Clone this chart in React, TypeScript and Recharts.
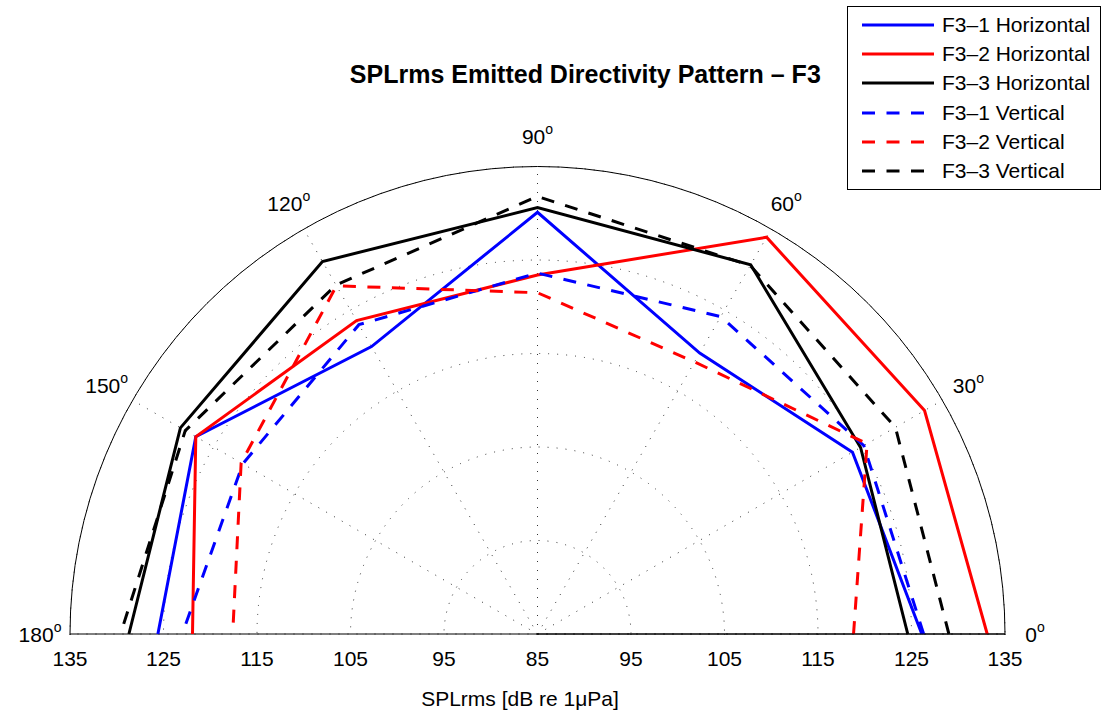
import React from 'react';
import {
  RadarChart,
  Radar,
  PolarGrid,
  PolarAngleAxis,
  PolarRadiusAxis,
  Legend,
} from 'recharts';

// Measurement angles (degrees)
const ANGLES = [0, 30, 60, 90, 120, 150, 180];
const ANGLE_DOMAIN = [0, 360];
const ANGLE_TICK_COUNT = 13;
const BASELINE_ANGLES = [0, 180];

// SPLrms [dB re 1 µPa] at each of ANGLES
const F3_1_HORIZONTAL = [126.1, 123.9, 119.7, 130.1, 120.5, 127.2, 125.6];
const F3_2_HORIZONTAL = [133.1, 132.8, 134.0, 123.4, 123.7, 127.2, 121.9];
const F3_3_HORIZONTAL = [124.6, 124.9, 130.6, 130.6, 131.0, 129.1, 128.7];
const F3_1_VERTICAL = [126.3, 125.3, 124.2, 123.6, 123.2, 121.4, 123.0];
const F3_2_VERTICAL = [118.8, 125.7, 118.6, 121.5, 128.0, 121.6, 117.6];
const F3_3_VERTICAL = [129.0, 129.2, 130.5, 131.8, 128.1, 128.5, 129.6];

const RADIUS_DOMAIN = [85, 135];
const RADIUS_TICK_COUNT = 6;

const TITLE = 'SPLrms Emitted Directivity Pattern \u2013 F3';
const X_LABEL = 'SPLrms [dB re 1\u03BCPa]';

const SERIES = [
  { key: 'f31h', name: 'F3\u20131 Horizontal', values: F3_1_HORIZONTAL, color: '#0000ff', dashed: false },
  { key: 'f32h', name: 'F3\u20132 Horizontal', values: F3_2_HORIZONTAL, color: '#ff0000', dashed: false },
  { key: 'f33h', name: 'F3\u20133 Horizontal', values: F3_3_HORIZONTAL, color: '#000000', dashed: false },
  { key: 'f31v', name: 'F3\u20131 Vertical', values: F3_1_VERTICAL, color: '#0000ff', dashed: true },
  { key: 'f32v', name: 'F3\u20132 Vertical', values: F3_2_VERTICAL, color: '#ff0000', dashed: true },
  { key: 'f33v', name: 'F3\u20133 Vertical', values: F3_3_VERTICAL, color: '#000000', dashed: true },
];

const rows = ANGLES.map((angle, i) => {
  const row: Record<string, number> = { angle };
  SERIES.forEach((s) => {
    row[s.key] = s.values[i];
  });
  return row;
});

// Figure layout
const W = 1105;
const H = 715;
const CX = 537.5;
const CY = 634;
const R = 467.5;
const FONT = '"Liberation Sans", Arial, Helvetica, sans-serif';
const DASH = '13 11.5';
const LINE_W = 3;

const LEGEND_LEFT = 847;
const LEGEND_TOP = 6;
const LEGEND_W = 254;
const LEGEND_ROW = 29.3;

// Polyline through the measured points only (the outline is left open)
const openOutline = (color: string, dashed: boolean) => (props: any) => {
  const pts = (props.points || []).filter(
    (p: any) => p.value != null && Number.isFinite(p.x) && Number.isFinite(p.y)
  );
  const d = pts.map((p: any, i: number) => `${i ? 'L' : 'M'}${p.x},${p.y}`).join(' ');
  return (
    <path
      d={d}
      fill="none"
      stroke={color}
      strokeWidth={LINE_W}
      strokeDasharray={dashed ? DASH : undefined}
      strokeLinejoin="miter"
    />
  );
};

const AngleTick = (props: any) => {
  const { x, y, payload } = props;
  const v = Number(payload && payload.value);
  if (!ANGLES.includes(v)) return <g />;
  return (
    <text x={x} y={y + 7.5} textAnchor="middle" fontSize={21} fill="#000" fontFamily={FONT}>
      {v}
      <tspan dy={-10} fontSize={14}>
        o
      </tspan>
    </text>
  );
};

// Radius ticks: the axis runs along 0 degrees; the 180-degree side repeats it mirrored
const RadiusTick = (props: any) => {
  const { x, y, payload } = props;
  const v = payload && payload.value;
  const cx = Number.isFinite(props.cx) ? props.cx : CX;
  const mirroredX = 2 * cx - x;
  return (
    <g>
      <text x={x} y={y + 32} textAnchor="middle" fontSize={21} fill="#000" fontFamily={FONT}>
        {v}
      </text>
      {v !== RADIUS_DOMAIN[0] && (
        <text x={mirroredX} y={y + 32} textAnchor="middle" fontSize={21} fill="#000" fontFamily={FONT}>
          {v}
        </text>
      )}
    </g>
  );
};

const LegendBox = (props: any) => {
  const payload = props.payload || [];
  return (
    <div
      style={{
        width: LEGEND_W,
        boxSizing: 'border-box',
        border: '1px solid #000',
        background: '#fff',
        padding: '3px 0 3px 0',
        fontFamily: FONT,
        fontSize: 21,
        color: '#000',
      }}
    >
      {SERIES.map((s) => {
        const entry = payload.find((e: any) => e.dataKey === s.key);
        return (
          <div
            key={s.key}
            style={{ height: LEGEND_ROW, display: 'flex', alignItems: 'center', whiteSpace: 'nowrap' }}
          >
            <svg width={72} height={6} style={{ marginLeft: 14, flex: 'none' }}>
              <line
                x1={0}
                y1={3}
                x2={72}
                y2={3}
                stroke={s.color}
                strokeWidth={LINE_W}
                strokeDasharray={s.dashed ? DASH : undefined}
              />
            </svg>
            <span style={{ marginLeft: 8 }}>{entry ? entry.value : s.name}</span>
          </div>
        );
      })}
    </div>
  );
};

export default function App() {
  return (
    <div
      style={{
        position: 'absolute',
        left: 0,
        top: 0,
        width: W,
        height: H,
        background: '#fff',
        fontFamily: FONT,
      }}
    >
      <style>{`.recharts-polar-grid, .recharts-polar-angle-axis-line { clip-path: url(#upper-half); }`}</style>
      <svg width={0} height={0} style={{ position: 'absolute' }}>
        <defs>
          <clipPath id="upper-half" clipPathUnits="userSpaceOnUse">
            <rect x={0} y={0} width={W} height={CY + 1} />
          </clipPath>
        </defs>
      </svg>

      <RadarChart
        width={W}
        height={H}
        data={rows}
        cx={CX}
        cy={CY}
        outerRadius={R}
        startAngle={0}
        endAngle={360}
        margin={{ top: 0, right: 0, bottom: 0, left: 0 }}
      >
        <PolarGrid gridType="circle" stroke="#333" strokeWidth={1} strokeDasharray="1 8" />
        {/* solid horizontal diameter */}
        <PolarGrid
          gridType="circle"
          polarRadius={[0]}
          polarAngles={BASELINE_ANGLES}
          stroke="#000"
          strokeWidth={1}
        />
        <PolarRadiusAxis
          angle={0}
          domain={RADIUS_DOMAIN}
          type="number"
          tickCount={RADIUS_TICK_COUNT}
          stroke="#000"
          axisLine={{ stroke: '#000', strokeWidth: 1 }}
          tickLine={false}
          tick={RadiusTick}
        />
        {SERIES.map((s) => (
          <Radar
            key={s.key}
            dataKey={s.key}
            name={s.name}
            stroke={s.color}
            fill="none"
            fillOpacity={0}
            legendType="line"
            isAnimationActive={false}
            shape={openOutline(s.color, s.dashed)}
          />
        ))}
        <PolarAngleAxis
          dataKey="angle"
          type="number"
          domain={ANGLE_DOMAIN}
          tickCount={ANGLE_TICK_COUNT}
          axisLineType="circle"
          axisLine={{ stroke: '#000', strokeWidth: 1 }}
          tickLine={false}
          tickSize={30}
          tick={AngleTick}
        />
        <Legend
          layout="vertical"
          align="right"
          verticalAlign="top"
          wrapperStyle={{ top: LEGEND_TOP, left: LEGEND_LEFT, right: 'auto', width: LEGEND_W }}
          content={LegendBox}
        />
      </RadarChart>

      <svg
        width={W}
        height={H}
        style={{ position: 'absolute', left: 0, top: 0, pointerEvents: 'none' }}
      >
        <text x={585.3} y={83.3} textAnchor="middle" fontSize={25} fontWeight="bold" fontFamily={FONT} fill="#000">
          {TITLE}
        </text>
        <text x={520} y={706} textAnchor="middle" fontSize={21} fontFamily={FONT} fill="#000">
          {X_LABEL}
        </text>
      </svg>
    </div>
  );
}
